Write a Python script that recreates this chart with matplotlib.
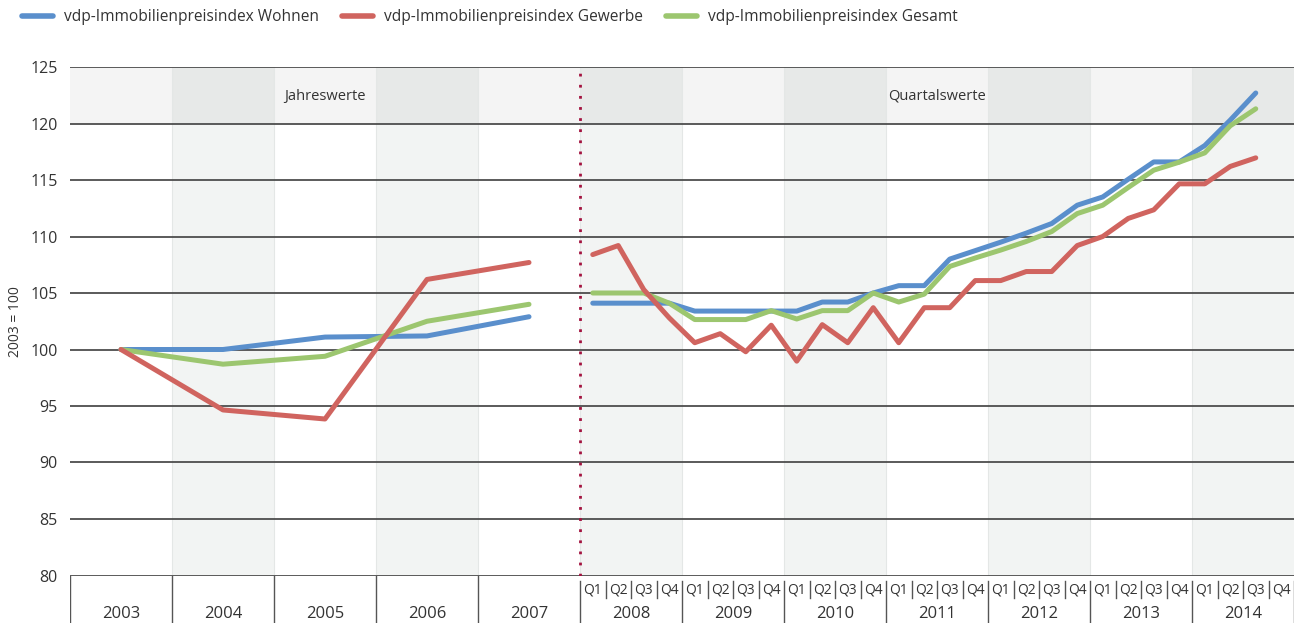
import numpy as np
import matplotlib
matplotlib.use('Agg')
import matplotlib.pyplot as plt

plt.rcParams['font.family'] = ['Open Sans', 'DejaVu Sans']

# Jahreswerte 2003-2007
jahre = ['2003', '2004', '2005', '2006', '2007']
wohnen_j = [100.0, 100.0, 101.1, 101.2, 102.9]
gewerbe_j = [100.0, 94.65, 93.85, 106.2, 107.7]
gesamt_j = [100.0, 98.7, 99.4, 102.5, 104.0]

# Quartalswerte 2008 Q1 - 2014 Q3
q_jahre = ['2008', '2009', '2010', '2011', '2012', '2013', '2014']
quartale = ['Q1', 'Q2', 'Q3', 'Q4']
wohnen_q = [104.1, 104.1, 104.1, 104.1,
            103.4, 103.4, 103.4, 103.4,
            103.4, 104.2, 104.2, 105.0,
            105.65, 105.65, 108.0, 108.75,
            109.5, 110.3, 111.15, 112.77,
            113.5, 115.07, 116.6, 116.6,
            118.05, 120.3, 122.7]
gewerbe_q = [108.4, 109.2, 105.3, 102.8,
             100.6, 101.4, 99.8, 102.15,
             98.97, 102.2, 100.6, 103.7,
             100.6, 103.7, 103.7, 106.1,
             106.1, 106.9, 106.9, 109.2,
             110.0, 111.6, 112.36, 114.66,
             114.66, 116.2, 116.96]
gesamt_q = [105.0, 105.0, 105.0, 104.1,
            102.65, 102.65, 102.65, 103.44,
            102.7, 103.44, 103.44, 105.0,
            104.2, 104.9, 107.35, 108.1,
            108.8, 109.56, 110.44, 112.03,
            112.77, 114.34, 115.87, 116.58,
            117.4, 119.8, 121.3]

labels = ['vdp-Immobilienpreisindex Wohnen', 'vdp-Immobilienpreisindex Gewerbe',
          'vdp-Immobilienpreisindex Gesamt']
farben = ['#5a8fcc', '#d0645f', '#9cc66f']

n_j = len(jahre)
n_cols = n_j + len(q_jahre)
x_j = np.arange(n_j) + 0.5
x_q = n_j + (np.arange(len(wohnen_q)) + 0.5) / 4

W, H = 1304, 623
fig = plt.figure(figsize=(W / 100, H / 100), dpi=100)
left, right = 70 / W, 1294 / W
bot, top = (H - 575.5) / H, (H - 67) / H
ax = fig.add_axes([left, bot, right - left, top - bot])
ax.set_xlim(0, n_cols)
ax.set_ylim(80, 125)

# Hintergrund
for i in range(1, n_cols, 2):
    ax.axvspan(i, i + 1, color='#f2f4f3', lw=0, zorder=0)
ax.axhspan(120, 125, color='black', alpha=0.045, lw=0, zorder=0.5)
for i in range(1, n_cols):
    ax.axvline(i, color='#e4e7e6', lw=0.8, zorder=0.6)

for v in range(80, 126, 5):
    ax.axhline(v, color='#4d4d4d', lw=1.3, zorder=1)

ax.axvline(n_j, color='#a3123f', lw=2, ls=(0, (1, 3)), zorder=2)

serien = [(wohnen_j, wohnen_q), (gewerbe_j, gewerbe_q), (gesamt_j, gesamt_q)]
zord = [3, 5, 4]
handles = []
for (yj, yq), lab, c, z in zip(serien, labels, farben, zord):
    h, = ax.plot(x_j, yj, color=c, lw=3.6, solid_capstyle='round', zorder=z, label=lab)
    ax.plot(x_q, yq, color=c, lw=3.6, solid_capstyle='round', zorder=z)
    handles.append(h)

ax.text(n_j / 2, 122.4, 'Jahreswerte', ha='center', va='center', fontsize=10.5, color='#333333')
ax.text(n_j + len(q_jahre) / 2, 122.4, 'Quartalswerte', ha='center', va='center',
        fontsize=10.5, color='#333333')

ax.set_yticks(range(80, 126, 5))
ax.tick_params(axis='y', length=0, pad=9, labelsize=11.5, labelcolor='#333333')
ax.set_xticks([])
for s in ax.spines.values():
    s.set_visible(False)
ax.set_ylabel('2003 = 100', fontsize=10, color='#333333', labelpad=5)

# Achse unten
bx = fig.add_axes([left, 0, right - left, bot])
bx.set_xlim(0, n_cols)
bx.set_ylim(0, 1)
bx.axis('off')
lc = '#555555'
q_top = (H - 581) / (H * bot)
q_bot = (H - 598) / (H * bot)
bx.plot([0, 0], [0, 1], color=lc, lw=1)
for i in range(1, n_j + 1):
    bx.plot([i, i], [0, 1 if i < n_j else q_top], color=lc, lw=1)
for i in range(n_j, n_cols):
    bx.plot([i + 1, i + 1], [0, q_top], color=lc, lw=1)
    for k in range(1, 4):
        bx.plot([i + k / 4] * 2, [q_bot, q_top], color=lc, lw=1)
    for k, q in enumerate(quartale):
        bx.text(i + (k + 0.5) / 4, 0.7, q, ha='center', va='center', fontsize=10, color='#333333')
for i, j in enumerate(jahre + q_jahre):
    bx.text(i + 0.5, 0.19, j, ha='center', va='center', fontsize=12, color='#333333')

leg = fig.legend(handles=handles, loc='upper left', bbox_to_anchor=(0.006, 1.008), ncol=3,
                 frameon=False, fontsize=11.2, handlelength=2.0, handletextpad=0.7,
                 columnspacing=1.5, labelcolor='#333333')
for l in leg.get_lines():
    l.set_linewidth(4)
    l.set_solid_capstyle('round')

fig.savefig('out.png', dpi=100)
